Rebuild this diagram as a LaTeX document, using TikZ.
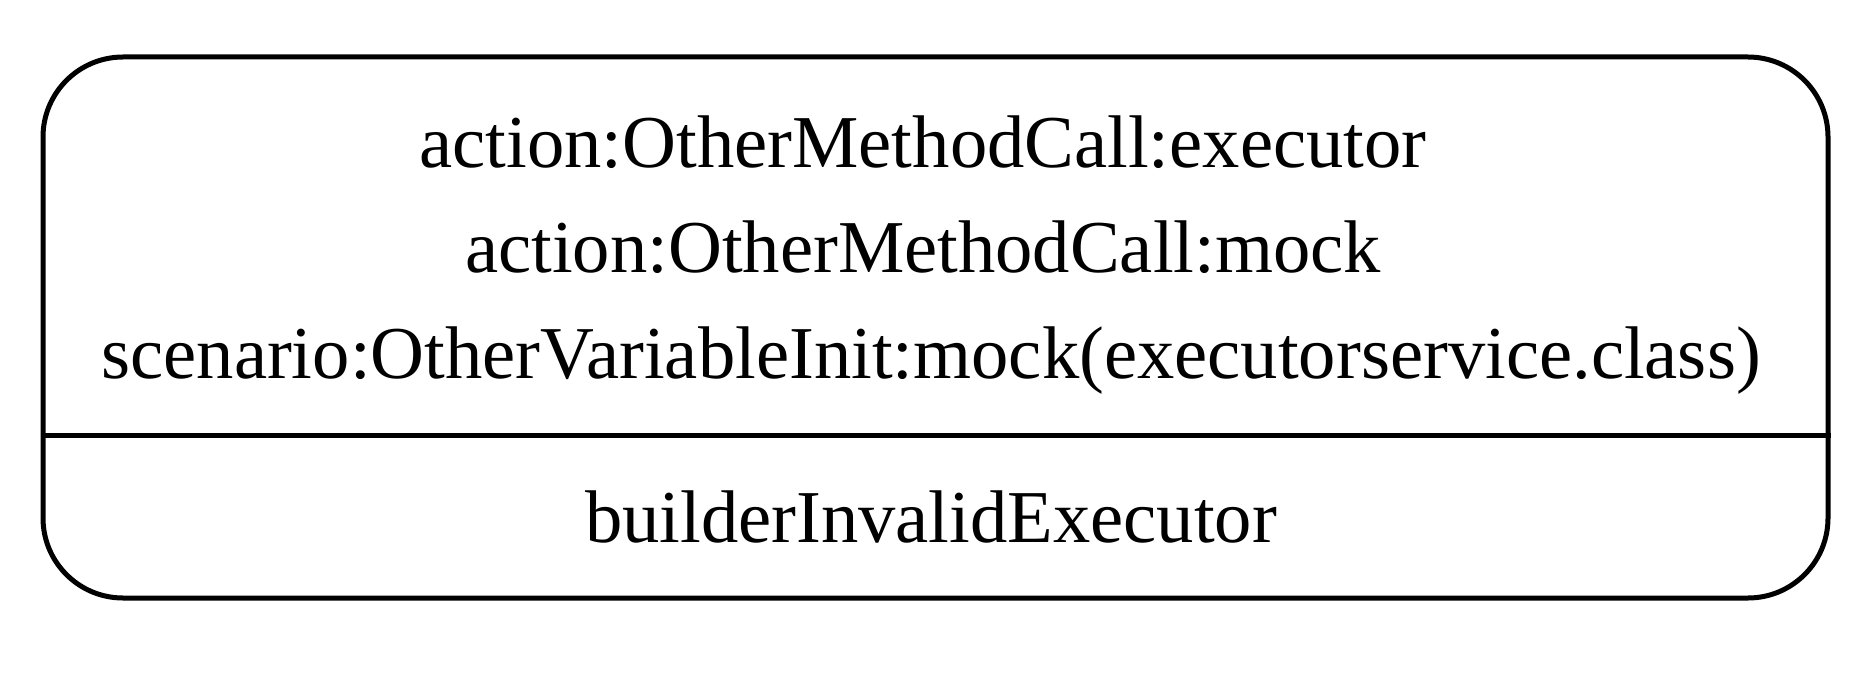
\documentclass[tikz,border=0pt]{standalone}
\usepackage{fontspec}
\setmainfont{Liberation Serif}
\usetikzlibrary{positioning}

\begin{document}
\begin{tikzpicture}[x=0.5pt,y=-0.5pt,line width=2.5pt]
  \tikzstyle{record}=[draw=black,rounded corners=40pt,minimum width=892.5pt,minimum height=270.5pt,inner sep=0pt]
  \tikzstyle{field}=[anchor=base,inner sep=0pt,font=\fontsize{37.3}{44}\selectfont]

  \useasboundingbox (0,0) rectangle (1868,674);

  \node[record] (state) at (935.5,327.5) {};

  \node[field] (act1) at (923,167) {action:OtherMethodCall:executor};
  \node[field] (act2) at (923,272) {action:OtherMethodCall:mock};
  \node[field] (scen) at (931,378) {scenario:OtherVariableInit:mock(executorservice.class)};
  \node[field] (name) at (931,542) {builderInvalidExecutor};

  \draw (state.west |- 0,435) -- (state.east |- 0,435);
\end{tikzpicture}
\end{document}
